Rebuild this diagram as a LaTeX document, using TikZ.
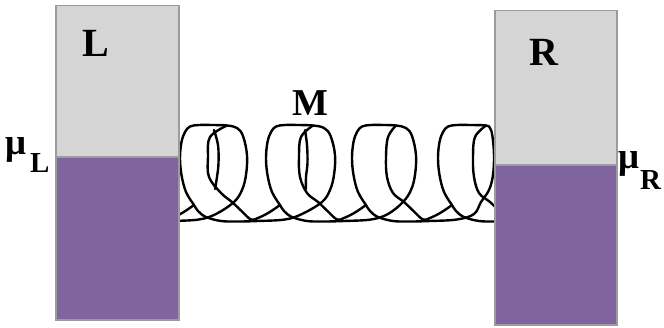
\documentclass[tikz,border=0pt]{standalone}
\usepackage{fontspec}
\setmainfont{Liberation Serif}
\definecolor{blockgray}{HTML}{D5D5D5}
\definecolor{blockviolet}{HTML}{7F64A0}
\definecolor{blockedge}{HTML}{9C9C9C}

% one turn of the coil, local frame: top of the turn at y=0, bottom line near y=96
% #1 = x of the turn, #2 = x where the top bends down, #3 = outer right x, #4 = inner stroke x
\newcommand\coilturn[4]{%
  \begin{scope}[shift={(#1,125)}]
    \draw[wire] plot[smooth, tension=0.6] coordinates {
      (22,80) (14,67) (9.5,50) (8,33) (9.5,17) (13,7) (18,1.5) (27,0) (40,0) (#2,0.5)
      ({#2+0.5*(#3-#2)},3) ({#2+0.8*(#3-#2)},11) (#3,30) ({#3-1},50) ({#3-5},65) ({#3-13},77)
      (44,89) (27,94.5) (0,96) (-20,96.5) (-37,96) (-52,92) (-60,86) (-64,80)};
    \draw[wire] plot[smooth, tension=0.6] coordinates {
      (#2,0.5) ({#4+2},12) (#4,32) ({#4+1},52) (49,68) (60,77) (70,86.5) (79,94.5)
      (86,93) (97,87.5) (108,80)};
  \end{scope}}
% second inner stroke that opens a narrow eye inside a turn
\newcommand\coileye[3]{%
  \begin{scope}[shift={(#1,125)}]
    \draw[wire] plot[smooth, tension=0.6] coordinates {
      ({#2+6},5) (#3,20) ({#3+0.5},38) ({#3-1},52) ({#2+7},64)};
  \end{scope}}

\begin{document}
\begin{tikzpicture}[x=1pt, y=-1pt,
    wire/.style={line width=2.4pt, line cap=round, line join=round, black},
    big/.style={font=\fontsize{40}{40}\selectfont\bfseries, inner sep=0pt, anchor=base},
    mutext/.style={font=\fontsize{37}{37}\selectfont\bfseries, inner sep=0pt, anchor=base west},
    subtext/.style={font=\fontsize{29}{29}\selectfont\bfseries, inner sep=0pt, anchor=base west}]
  \useasboundingbox (0,0) rectangle (664,327);

  % coil between the two reservoirs
  \begin{scope}[shift={(86,125)}]
    \draw[wire] plot[smooth, tension=0.6] coordinates {(70,86.5) (79,94.5) (86,93) (97,87.5) (108,80)};
  \end{scope}
  \coilturn{172}{55}{75}{36}
  \coileye{172}{36}{46}
  \coilturn{258}{55}{77}{41}
  \coileye{258}{41}{49}
  \coilturn{344}{52}{72}{42}
  \coilturn{430}{56}{64}{43}
  \begin{scope}[shift={(516,125)}]
    \draw[wire] plot[smooth, tension=0.6] coordinates {(0,96) (-20,96.5) (-37,96) (-52,92) (-60,86) (-64,80)};
  \end{scope}

  % left reservoir
  \fill[blockgray] (56,5.5) rectangle (179,157);
  \fill[blockviolet] (56,157) rectangle (179,320);
  \draw[blockedge, line width=1.2pt] (56,5.5) rectangle (179,320);
  \draw[blockedge, line width=1.2pt] (56,157) -- (179,157);

  % right reservoir
  \fill[blockgray] (495,10.5) rectangle (617,165);
  \fill[blockviolet] (495,165) rectangle (617,325);
  \draw[blockedge, line width=1.2pt] (495,10.5) rectangle (617,325);
  \draw[blockedge, line width=1.2pt] (495,165) -- (617,165);

  % labels
  \node[big] (labL) at (95.5,56) {L};
  \node[big] (labR) at (544,65) {R};
  \node[big, font=\fontsize{38}{38}\selectfont\bfseries] (labM) at (310,115) {M};
  \node[mutext] (muL) at (5,154) {μ};
  \node[subtext] (subL) at (30,172) {L};
  \node[mutext] (muR) at (618,168) {μ};
  \node[subtext] (subR) at (640,189) {R};
\end{tikzpicture}
\end{document}
